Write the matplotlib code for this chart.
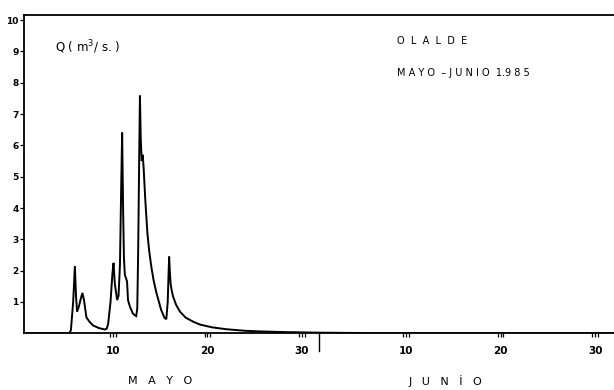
import matplotlib
matplotlib.use("Agg")
import matplotlib.pyplot as plt

# time in days counted from 1 May (June d -> 31 + d), discharge in m3/s
day = [0.6, 5.4, 5.56, 5.8, 5.98, 6.1, 6.21, 6.4, 6.6, 6.78, 6.95, 7.2, 7.5, 7.9, 8.5, 9.15,
       9.35, 9.5, 9.75, 9.95, 10.07, 10.2, 10.45, 10.6, 10.75, 10.87, 10.98, 11.08,
       11.17, 11.27, 11.4, 11.5, 11.6, 11.8, 12.1, 12.3, 12.47, 12.58, 12.67, 12.78,
       12.86, 12.95, 13.05, 13.15, 13.25, 13.42, 13.65, 13.85, 14.08, 14.3, 14.6, 15.1,
       15.45, 15.65, 15.8, 15.88, 15.95, 16.02, 16.1, 16.2, 16.37, 16.7, 17.1, 17.7,
       18.5, 19.2, 20.5, 22.0, 24.0, 25.6, 28.0, 31.9, 36.0, 45.0, 55.0, 63.0]
q = [0.0, 0.0, 0.1, 1.0, 2.15, 1.2, 0.69, 0.85, 1.1, 1.29, 1.05, 0.51, 0.38, 0.25, 0.17, 0.12,
     0.15, 0.3, 1.0, 1.9, 2.25, 1.6, 1.06, 1.2, 2.2, 4.5, 6.41, 4.0,
     2.4, 1.86, 1.75, 1.65, 1.06, 0.85, 0.64, 0.58, 0.55, 0.8, 2.5, 5.5,
     7.59, 6.2, 5.5, 5.7, 5.3, 4.3, 3.2, 2.6, 2.1, 1.7, 1.3, 0.75,
     0.5, 0.45, 1.0, 1.8, 2.45, 2.0, 1.6, 1.4, 1.17, 0.9, 0.69, 0.5,
     0.37, 0.28, 0.19, 0.13, 0.08, 0.06, 0.04, 0.02, 0.01, 0.0, 0.0, 0.0]

tick_days = [10, 20, 30, 41, 51, 61]
tick_labels = ["10", "20", "30", "10", "20", "30"]
y_ticks = [1, 2, 3, 4, 5, 6, 7, 8, 9, 10]
month_end = 31.8

plt.rcParams['font.family'] = ['DejaVu Sans']
fig = plt.figure(figsize=(6.14, 3.90), dpi=100)
ax = fig.add_axes([24 / 614, 1 - 333.3 / 390, 1 - 24 / 614, (333.3 - 14.5) / 390])

ax.plot(day, q, color='black', lw=1.4, solid_joinstyle='miter')

ax.set_xlim(0.6, 63.0)
ax.set_ylim(0, 10.18)

for s in ['left', 'bottom', 'top']:
    ax.spines[s].set_linewidth(1.3)
ax.spines['right'].set_visible(False)

ax.set_yticks(y_ticks)
ax.set_yticklabels([str(v) for v in y_ticks], fontsize=6.5, fontweight='bold')
ax.tick_params(axis='y', length=3, width=0.9, pad=1, direction='out')

ax.set_xticks(tick_days)
ax.set_xticklabels(tick_labels, fontsize=7.5, fontweight='bold')
ax.set_xticks([d + o for d in tick_days for o in (-0.3, 0.3)], minor=True)
ax.tick_params(axis='x', which='both', length=3, width=0.9, pad=6, direction='out')

# boundary between May and June
ax.plot([month_end, month_end], [0, -0.55], color='black', lw=1.0, clip_on=False)

ax.text(160 / 614, 9 / 390, "M   A   Y   O", transform=fig.transFigure,
        ha='center', va='center', fontsize=8)
ax.text(445 / 614, 9 / 390, "J   U   N   İ   O", transform=fig.transFigure,
        ha='center', va='center', fontsize=8)

ax.text(55 / 614, 1 - 47 / 390, "Q ( m$^{3}$/ s. )", transform=fig.transFigure,
        ha='left', va='center', fontsize=8.5)
ax.text(397 / 614, 1 - 41 / 390, "O  L  A  L  D  E", transform=fig.transFigure,
        ha='left', va='center', fontsize=7)
ax.text(397 / 614, 1 - 73 / 390, "M A Y O  – J U N I O  1.9 8 5", transform=fig.transFigure,
        ha='left', va='center', fontsize=7)

fig.savefig("out.png", dpi=100)
